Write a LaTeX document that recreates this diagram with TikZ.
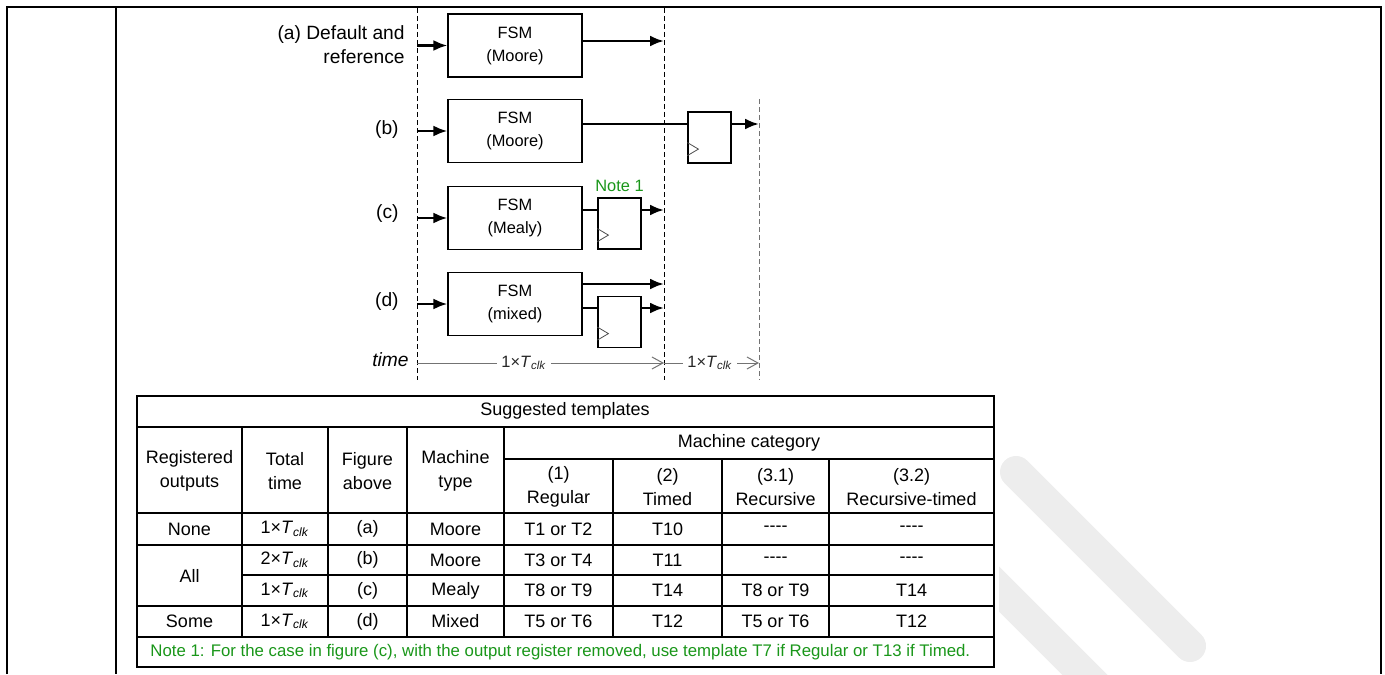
\documentclass[tikz,border=0pt]{standalone}
\usepackage{fontspec}
\setmainfont{Liberation Sans}
\usetikzlibrary{positioning,arrows.meta}
\definecolor{notegreen}{RGB}{25,150,25}
\definecolor{timegray}{RGB}{115,115,115}
\definecolor{bandgray}{RGB}{237,237,237}
\newcommand{\tabfont}{\fontsize{9}{12}\selectfont}
\newcommand{\figfont}{\fontsize{8.2}{11.5}\selectfont}
\newcommand{\lblfont}{\fontsize{9.6}{12}\selectfont}
\newcommand{\notefont}{\fontsize{8.4}{10}\selectfont}
\newcommand{\tclk}[1]{#1×\textit{T}\textsubscript{\textit{clk}}}

\begin{document}
\begin{tikzpicture}[x=0.5pt, y=-0.5pt,
    fsm/.style={draw, line width=0.6pt, minimum width=67pt, minimum height=31.5pt, align=center, font=\figfont, inner sep=0pt},
    reg/.style={draw, line width=0.6pt, minimum width=21.5pt, minimum height=25.5pt, inner sep=0pt},
    sig/.style={line width=1.3pt, -{Latex[length=7pt,width=5.5pt]}},
    wire/.style={line width=1.2pt},
    clk/.style={line width=0.4pt, black!70},
    bound/.style={line width=0.5pt, dash pattern=on 2.5pt off 1.5pt},
    period/.style={line width=0.5pt, timegray, -{Straight Barb[length=5.5pt,width=6pt]}},
    perlbl/.style={font=\figfont, fill=white, inner sep=2pt, text=black!85},
    caselbl/.style={font=\lblfont, inner sep=0pt, anchor=east, align=right},
    tabline/.style={line width=0.6pt},
    cell/.style={font=\tabfont, align=center, inner sep=0pt}]
    \useasboundingbox (0,0) rectangle (1385,674);

    % Watermark bands
    \begin{scope}
        \clip (999,390) rectangle (1385,674);
        \draw[bandgray, line width=16pt, line cap=round] (1016,472) -- (1190,646);
        \draw[bandgray, line width=16pt, line cap=round] (975,565) -- (1110,700);
    \end{scope}

    % Frame
    \draw[line width=1pt] (7,674) -- (7,7) -- (1381,7) -- (1381,674);
    \draw[line width=1pt] (116,7) -- (116,674);

    % Clock boundaries
    \draw[bound] (417,8) -- (417,380);
    \draw[bound] (664,8) -- (664,380);
    \draw[bound, black!55] (759,99) -- (759,380);

    % Blocks
    \node[fsm] (fsma) at (515,45.5) {FSM\\(Moore)};
    \node[fsm] (fsmb) at (515,131) {FSM\\(Moore)};
    \node[fsm] (fsmc) at (515,218) {FSM\\(Mealy)};
    \node[fsm] (fsmd) at (515,304) {FSM\\(mixed)};
    \node[reg] (regb) at (709.5,137.5) {};
    \node[reg] (regc) at (619.5,223.5) {};
    \node[reg] (regd) at (619.5,322) {};
    \foreach \r in {regb,regc,regd}
        \draw[clk] ([yshift=4pt]\r.south west) -- ++(5.5pt,3.25pt) -- ++(-5.5pt,3.25pt);
    \node[font=\figfont, notegreen, anchor=base, inner sep=0pt] (note) at ([yshift=3pt]regc.north) {Note 1};

    % Case labels
    \node[caselbl] (lbla) at (405,45) {(a) Default and\\reference};
    \node[caselbl] (lblb) at (399,130) {(b)};
    \node[caselbl] (lblc) at (399,214) {(c)};
    \node[caselbl] (lbld) at (399,302) {(d)};
    \node[caselbl] (lbltime) at (409,360) {\itshape time};

    % Inputs
    \coordinate (ina) at (417,45.5);
    \coordinate (inb) at (417,131);
    \coordinate (inc) at (417,218);
    \coordinate (ind) at (417,304);
    \draw[sig] (ina) -- (fsma.west);
    \draw[sig] (inb) -- (fsmb.west);
    \draw[sig] (inc) -- (fsmc.west);
    \draw[sig] (ind) -- (fsmd.west);

    % Outputs
    \coordinate (outa) at (664,41);
    \coordinate (outb) at (759,124);
    \coordinate (outc) at (664,210);
    \coordinate (outd) at (664,284);
    \coordinate (outdr) at (664,308);
    \draw[sig] (fsma.east |- outa) -- (outa);
    \draw[wire] (fsmb.east |- outb) -- (regb.west |- outb);
    \draw[sig] (regb.east |- outb) -- (outb);
    \draw[wire] (fsmc.east |- outc) -- (regc.west |- outc);
    \draw[sig] (regc.east |- outc) -- (outc);
    \draw[sig] (fsmd.east |- outd) -- (outd);
    \draw[wire] (fsmd.east |- outdr) -- (regd.west |- outdr);
    \draw[sig] (regd.east |- outdr) -- (outdr);

    % Time axis
    \coordinate (t0) at (417,363);
    \coordinate (t1) at (664,363);
    \coordinate (t2) at (759,363);
    \draw[period] (t0) -- (t1);
    \draw[period] (t1) -- (t2);
    \node[perlbl] (per1) at (524,363) {\tclk{1}};
    \node[perlbl] (per2) at (710,363) {\tclk{1}};

    % Table grid
    \draw[tabline] (137,396) rectangle (994,667);
    \draw[tabline] (137,427) -- (994,427);
    \draw[tabline] (504,459) -- (994,459);
    \draw[tabline] (137,513) -- (994,513);
    \draw[tabline] (137,545) -- (994,545);
    \draw[tabline] (242,575) -- (994,575);
    \draw[tabline] (137,606) -- (994,606);
    \draw[tabline] (137,637) -- (994,637);
    \draw[tabline] (242,427) -- (242,637);
    \draw[tabline] (328,427) -- (328,637);
    \draw[tabline] (407,427) -- (407,637);
    \draw[tabline] (504,427) -- (504,637);
    \draw[tabline] (613,459) -- (613,637);
    \draw[tabline] (722,459) -- (722,637);
    \draw[tabline] (829,459) -- (829,637);

    % Table header
    \node[cell] (title) at (565,411) {Suggested templates};
    \node[cell] (hregout) at (189.5,471) {Registered\\outputs};
    \node[cell] (htotal) at (285,471) {Total\\time};
    \node[cell] (hfig) at (367.5,471) {Figure\\above};
    \node[cell] (htype) at (455.5,471) {Machine\\type};
    \node[cell] (hcat) at (749,443) {Machine category};
    \node[cell] (hregular) at (558.5,487) {(1)\\Regular};
    \node[cell] (htimed) at (667.5,487) {(2)\\Timed};
    \node[cell] (hrec) at (775.5,487) {(3.1)\\Recursive};
    \node[cell] (hrectimed) at (911.5,487) {(3.2)\\Recursive-timed};

    % Table rows
    \node[cell] (none) at (189.5,529) {None};
    \node[cell] (all) at (189.5,575.5) {All};
    \node[cell] (some) at (189.5,621.5) {Some};

    \node[cell] (ta) at (285,529) {\tclk{1}};
    \node[cell] (tb) at (285,560) {\tclk{2}};
    \node[cell] (tc) at (285,590.5) {\tclk{1}};
    \node[cell] (td) at (285,621.5) {\tclk{1}};

    \node[cell] (figa) at (367.5,529) {(a)};
    \node[cell] (figb) at (367.5,560) {(b)};
    \node[cell] (figc) at (367.5,590.5) {(c)};
    \node[cell] (figd) at (367.5,621.5) {(d)};

    \node[cell] (typea) at (455.5,529) {Moore};
    \node[cell] (typeb) at (455.5,560) {Moore};
    \node[cell] (typec) at (455.5,590.5) {Mealy};
    \node[cell] (typed) at (455.5,621.5) {Mixed};

    \node[cell] (rega) at (558.5,529) {T1 or T2};
    \node[cell] (regb2) at (558.5,560) {T3 or T4};
    \node[cell] (regc2) at (558.5,590.5) {T8 or T9};
    \node[cell] (regd2) at (558.5,621.5) {T5 or T6};

    \node[cell] (tima) at (667.5,529) {T10};
    \node[cell] (timb) at (667.5,560) {T11};
    \node[cell] (timc) at (667.5,590.5) {T14};
    \node[cell] (timd) at (667.5,621.5) {T12};

    \node[cell] (reca) at (775.5,529) {-{}-{}-{}-};
    \node[cell] (recb) at (775.5,560) {-{}-{}-{}-};
    \node[cell] (recc) at (775.5,590.5) {T8 or T9};
    \node[cell] (recd) at (775.5,621.5) {T5 or T6};

    \node[cell] (rta) at (911.5,529) {-{}-{}-{}-};
    \node[cell] (rtb) at (911.5,560) {-{}-{}-{}-};
    \node[cell] (rtc) at (911.5,590.5) {T14};
    \node[cell] (rtd) at (911.5,621.5) {T12};

    % Note row
    \node[cell, font=\notefont, notegreen, anchor=west] (noterow) at (150,652) {Note 1: For the case in figure (c), with the output register removed, use template T7 if Regular or T13 if Timed.};

\end{tikzpicture}
\end{document}
